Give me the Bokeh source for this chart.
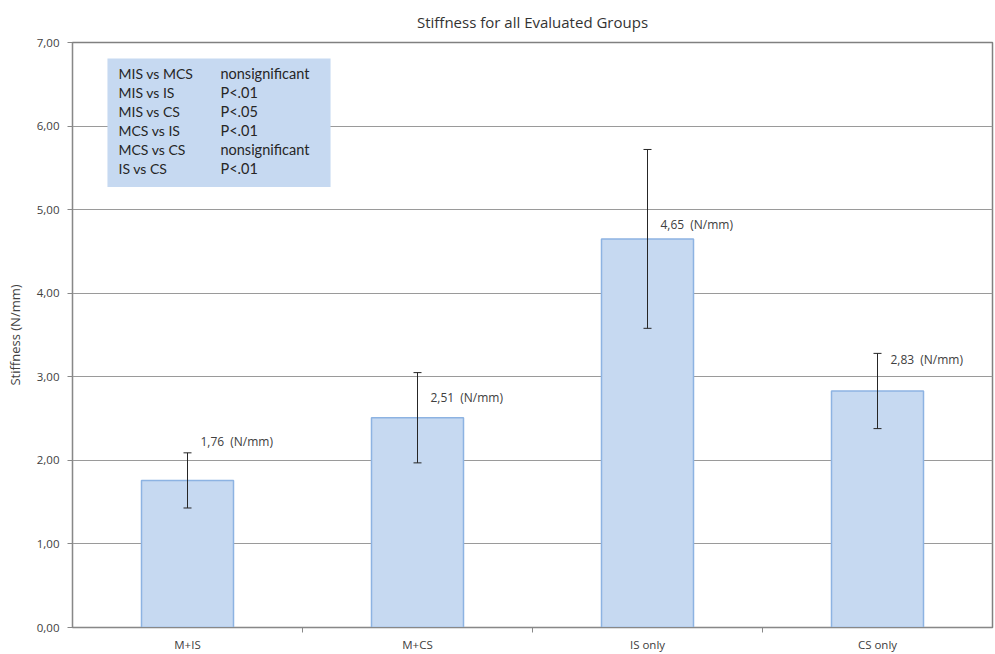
from bokeh.plotting import figure
from bokeh.models import (Range1d, FixedTicker, CustomJSTickFormatter, ColumnDataSource,
                          Whisker, TeeHead)
from bokeh.core.properties import value
from bokeh.embed import file_html
from bokeh.resources import INLINE

# ---- data ----
groups = ["M+IS", "M+CS", "IS only", "CS only"]
stiffness = [1.76, 2.51, 4.65, 2.83]
sd = [0.33, 0.54, 1.07, 0.45]
label_y = [2.23, 2.75, 4.82, 3.21]
y_ticks = [0, 1, 2, 3, 4, 5, 6, 7]
comparisons = ["MIS vs MCS", "MIS vs IS", "MIS vs CS", "MCS vs IS", "MCS vs CS", "IS vs CS"]
significance = ["nonsignificant", "P<.01", "P<.05", "P<.01", "nonsignificant", "P<.01"]

# ---- layout constants ----
W, H = 995, 654
B_LEFT, B_RIGHT, B_TOP, B_BOTTOM = 72, 3, 42, 26
FRAME_H = H - B_TOP - B_BOTTOM
PPU = FRAME_H / 7.0
FONT = "Open Sans"
BOX_FONT = "Lato"
TXT = "#404040"

xs = [i + 0.5 for i in range(len(groups))]
upper = [v + e for v, e in zip(stiffness, sd)]
lower = [v - e for v, e in zip(stiffness, sd)]
labels = [("%.2f" % v).replace(".", ",") + "\u2002(N/mm)" for v in stiffness]

p = figure(width=W, height=H, output_backend="svg", toolbar_location=None,
           x_range=Range1d(0, len(groups)), y_range=Range1d(0, 7),
           min_border_left=B_LEFT, min_border_right=B_RIGHT,
           min_border_top=B_TOP, min_border_bottom=B_BOTTOM,
           title="Stiffness for all Evaluated Groups")

p.title.align = "center"
p.title.vertical_align = "top"
p.title.text_font = FONT
p.title.text_font_size = "15px"
p.title.text_font_style = "normal"
p.title.text_color = "#333333"
p.title.offset = 0
p.title.standoff = 18

p.outline_line_color = "#808080"
p.outline_line_width = 1.5
p.background_fill_color = "white"
p.border_fill_color = "white"

# grid
p.xgrid.grid_line_color = None
p.ygrid.grid_line_color = "#9a9a9a"
p.ygrid.grid_line_width = 1

# y axis
p.yaxis.ticker = FixedTicker(ticks=y_ticks)
p.yaxis.formatter = CustomJSTickFormatter(code="return tick.toFixed(2).replace('.', ',');")
p.yaxis.axis_label = "Stiffness (N/mm)"
p.yaxis.axis_label_text_font = FONT
p.yaxis.axis_label_text_font_size = "13px"
p.yaxis.axis_label_text_font_style = "normal"
p.yaxis.axis_label_text_color = TXT
p.yaxis.axis_label_standoff = 10
p.yaxis.major_label_text_font = FONT
p.yaxis.major_label_text_font_size = "11.5px"
p.yaxis.major_label_text_color = TXT
p.yaxis.major_label_standoff = 8
p.yaxis.major_tick_out = 5
p.yaxis.major_tick_in = 0
p.yaxis.minor_tick_line_color = None
p.yaxis.axis_line_color = "#888888"
p.yaxis.major_tick_line_color = "#888888"

# x axis: labels at centres, ticks at category boundaries
p.xaxis.ticker = FixedTicker(ticks=xs, minor_ticks=list(range(1, len(groups))))
p.xaxis.formatter = CustomJSTickFormatter(args=dict(names=groups),
                                          code="return names[Math.floor(tick)];")
p.xaxis.major_tick_line_color = None
p.xaxis.major_tick_out = 0
p.xaxis.minor_tick_line_color = "#888888"
p.xaxis.minor_tick_out = 5
p.xaxis.minor_tick_in = 0
p.xaxis.major_label_standoff = 4
p.xaxis.major_label_text_font = FONT
p.xaxis.major_label_text_font_size = "11.5px"
p.xaxis.major_label_text_color = TXT
p.xaxis.axis_line_color = "#888888"

# bars
src = ColumnDataSource(dict(x=xs, top=stiffness, upper=upper, lower=lower,
                            ly=label_y, lab=labels))
p.vbar(x="x", top="top", bottom=0, width=0.4, source=src,
       fill_color="#c6d9f1", line_color="#8db3e2", line_width=1.5)

# error bars
head_kw = dict(size=8, line_color="#262626", line_width=1)
wh = Whisker(base="x", upper="upper", lower="lower", source=src,
             line_color="#262626", line_width=1,
             upper_head=TeeHead(**head_kw), lower_head=TeeHead(**head_kw))
wh.level = "overlay"
p.add_layout(wh)

# value labels
p.text(x="x", y="ly", text="lab", source=src, x_offset=13,
       text_align="left", text_baseline="middle",
       text_font=value(FONT), text_font_size="12px", text_color=TXT)

# significance box (data coordinates)
box_left, box_right, box_top, box_bottom = 0.152, 1.122, 6.81, 5.27
p.quad(left=[box_left], right=[box_right], top=[box_top], bottom=[box_bottom],
       fill_color="#c6d9f1", line_color=None)

cat_px = (W - B_LEFT - B_RIGHT) / len(groups)
row_y = [box_top - (15 + 19 * i) / PPU for i in range(len(comparisons))]
col1_x = box_left + 11 / cat_px
col2_x = box_left + 113 / cat_px
p.text(x=[col1_x] * len(comparisons), y=row_y, text=comparisons,
       text_align="left", text_baseline="middle",
       text_font=value(BOX_FONT), text_font_size="14px", text_color="#262626")
p.text(x=[col2_x] * len(significance), y=row_y, text=significance,
       text_align="left", text_baseline="middle",
       text_font=value(BOX_FONT), text_font_size="14.5px", text_color="#262626")

open("out.html", "w").write(file_html(p, INLINE))
